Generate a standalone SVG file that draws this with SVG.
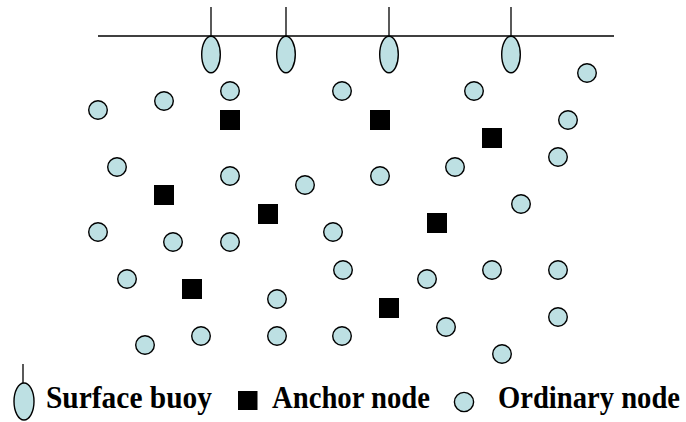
<svg xmlns="http://www.w3.org/2000/svg" width="686" height="422" viewBox="0 0 686 422">
<style>
.ln{stroke:#000;stroke-width:1.3;fill:none}
.buoy{fill:#bde0e3;stroke:#000;stroke-width:1.4}
.ord{fill:#bde0e3;stroke:#000;stroke-width:1.4}
.anc{fill:#000}
.lbl{font-family:"Liberation Serif","Times New Roman",serif;font-weight:bold;font-size:29px;fill:#000}
</style>
<rect width="686" height="422" fill="#fff"/>
<g id="connectors">
<line class="ln" x1="98" y1="36" x2="614" y2="36"/>
<line class="ln" x1="211" y1="7" x2="211" y2="36"/>
<line class="ln" x1="286" y1="7" x2="286" y2="36"/>
<line class="ln" x1="389" y1="7" x2="389" y2="36"/>
<line class="ln" x1="511" y1="7" x2="511" y2="36"/>
</g>
<g id="buoys">
<ellipse id="buoy1" class="buoy" cx="211" cy="54.5" rx="9.3" ry="18.3"/>
<ellipse id="buoy2" class="buoy" cx="286" cy="54.5" rx="9.3" ry="18.3"/>
<ellipse id="buoy3" class="buoy" cx="389" cy="54.5" rx="9.3" ry="18.3"/>
<ellipse id="buoy4" class="buoy" cx="511" cy="54.5" rx="9.3" ry="18.3"/>
</g>
<g id="anchors">
<rect class="anc" x="220" y="110" width="20" height="20"/>
<rect class="anc" x="370" y="110" width="20" height="20"/>
<rect class="anc" x="482" y="128" width="20" height="20"/>
<rect class="anc" x="154" y="185" width="20" height="20"/>
<rect class="anc" x="258" y="204" width="20" height="20"/>
<rect class="anc" x="427" y="213" width="20" height="20"/>
<rect class="anc" x="182" y="279" width="20" height="20"/>
<rect class="anc" x="379" y="298" width="20" height="20"/>
</g>
<g id="ordinary">
<circle class="ord" cx="98" cy="110" r="9.3"/>
<circle class="ord" cx="164" cy="101" r="9.3"/>
<circle class="ord" cx="230" cy="91" r="9.3"/>
<circle class="ord" cx="342" cy="91" r="9.3"/>
<circle class="ord" cx="474" cy="91" r="9.3"/>
<circle class="ord" cx="587" cy="73" r="9.3"/>
<circle class="ord" cx="568" cy="120" r="9.3"/>
<circle class="ord" cx="117" cy="167" r="9.3"/>
<circle class="ord" cx="230" cy="176" r="9.3"/>
<circle class="ord" cx="305" cy="185" r="9.3"/>
<circle class="ord" cx="380" cy="176" r="9.3"/>
<circle class="ord" cx="455" cy="167" r="9.3"/>
<circle class="ord" cx="558" cy="157" r="9.3"/>
<circle class="ord" cx="521" cy="204" r="9.3"/>
<circle class="ord" cx="98" cy="232" r="9.3"/>
<circle class="ord" cx="173" cy="242" r="9.3"/>
<circle class="ord" cx="230" cy="242" r="9.3"/>
<circle class="ord" cx="333" cy="232" r="9.3"/>
<circle class="ord" cx="127" cy="279" r="9.3"/>
<circle class="ord" cx="343" cy="270" r="9.3"/>
<circle class="ord" cx="427" cy="279" r="9.3"/>
<circle class="ord" cx="492" cy="270" r="9.3"/>
<circle class="ord" cx="558" cy="270" r="9.3"/>
<circle class="ord" cx="277" cy="299" r="9.3"/>
<circle class="ord" cx="145" cy="345" r="9.3"/>
<circle class="ord" cx="201" cy="336" r="9.3"/>
<circle class="ord" cx="277" cy="336" r="9.3"/>
<circle class="ord" cx="342" cy="336" r="9.3"/>
<circle class="ord" cx="446" cy="327" r="9.3"/>
<circle class="ord" cx="558" cy="317" r="9.3"/>
<circle class="ord" cx="502" cy="354" r="9.3"/>
</g>
<g id="legend">
<line class="ln" x1="23" y1="364" x2="23" y2="383"/>
<ellipse class="buoy" cx="24" cy="401.5" rx="10" ry="18.5"/>
<text class="lbl" transform="translate(46,408) scale(1,1.1)" x="0" y="0" textLength="166" lengthAdjust="spacingAndGlyphs">Surface buoy</text>
<rect class="anc" x="238" y="391" width="19.5" height="19"/>
<text class="lbl" transform="translate(272,408) scale(1,1.1)" x="0" y="0" textLength="158" lengthAdjust="spacingAndGlyphs">Anchor node</text>
<circle class="ord" cx="464" cy="402" r="9.6"/>
<text class="lbl" transform="translate(498,408) scale(1,1.1)" x="0" y="0" textLength="182" lengthAdjust="spacingAndGlyphs">Ordinary node</text>
</g>
</svg>
